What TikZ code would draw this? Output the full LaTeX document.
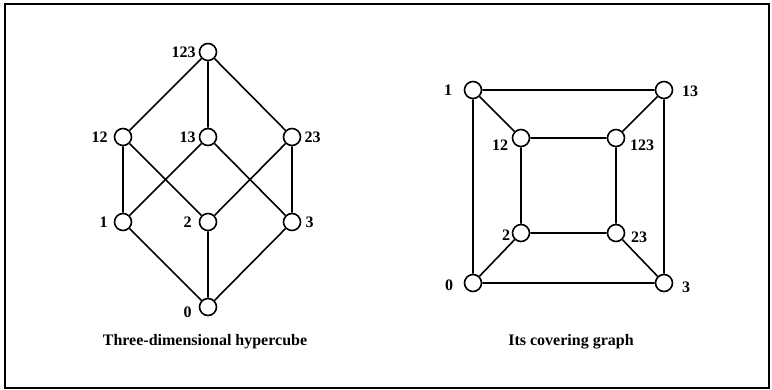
\documentclass[tikz,border=0pt]{standalone}
\usepackage{fontspec}
\setmainfont{Liberation Serif}
\begin{document}
\begin{tikzpicture}[x=1pt,y=-1pt,
  vtx/.style={circle,draw,line width=1.6pt,minimum size=17pt,inner sep=0pt,fill=white},
  lbl/.style={font=\bfseries\fontsize{16}{18}\selectfont,inner sep=1pt},
  edge/.style={line width=1.6pt},
  captxt/.style={font=\bfseries\fontsize{16}{18}\selectfont}]
\useasboundingbox (0,0) rectangle (772,390);
\draw[line width=1.4pt] (5,4) rectangle (769,388);
% left graph
\node[vtx] (a123) at (208,52) {};
\node[vtx] (a12) at (123,137) {};
\node[vtx] (a13) at (208,137) {};
\node[vtx] (a23) at (292,137) {};
\node[vtx] (a1) at (123,222) {};
\node[vtx] (a2) at (208,222) {};
\node[vtx] (a3) at (292,222) {};
\node[vtx] (a0) at (208,307) {};
\draw[edge] (a123)--(a12) (a123)--(a13) (a123)--(a23)
  (a12)--(a1) (a12)--(a2) (a13)--(a1) (a13)--(a3) (a23)--(a2) (a23)--(a3)
  (a1)--(a0) (a2)--(a0) (a3)--(a0);
\node[lbl,anchor=east] (la123) at ([xshift=-2pt]a123.west) {123};
\node[lbl,anchor=east] (la12) at ([xshift=-5pt]a12.west) {12};
\node[lbl,anchor=east] (la13) at ([xshift=-2pt]a13.west) {13};
\node[lbl,anchor=west] (la23) at ([xshift=2pt]a23.east) {23};
\node[lbl,anchor=east] (la1) at ([xshift=-5pt]a1.west) {1};
\node[lbl,anchor=east] (la2) at ([xshift=-6pt]a2.west) {2};
\node[lbl,anchor=west] (la3) at ([xshift=3pt]a3.east) {3};
\node[lbl,anchor=east] (la0) at ([xshift=-6pt,yshift=-5pt]a0.west) {0};
\node[captxt] (capa) at (205,342) {Three-dimensional hypercube};
% right graph
\node[vtx] (b1) at (473,90) {};
\node[vtx] (b13) at (664,90) {};
\node[vtx] (b12) at (521,138) {};
\node[vtx] (b123) at (616,138) {};
\node[vtx] (b2) at (521,233) {};
\node[vtx] (b23) at (616,233) {};
\node[vtx] (b0) at (473,283) {};
\node[vtx] (b3) at (664,283) {};
\draw[edge] (b1)--(b13) (b1)--(b12) (b1)--(b0) (b13)--(b123) (b13)--(b3)
  (b12)--(b123) (b12)--(b2) (b123)--(b23) (b2)--(b23) (b2)--(b0)
  (b23)--(b3) (b0)--(b3);
\node[lbl] (lb1) at (448,90) {1};
\node[lbl] (lb13) at (690,91) {13};
\node[lbl] (lb12) at (500,145) {12};
\node[lbl] (lb123) at (642,145) {123};
\node[lbl] (lb2) at (506,235) {2};
\node[lbl] (lb23) at (639,237) {23};
\node[lbl] (lb0) at (449,285) {0};
\node[lbl] (lb3) at (686,287) {3};
\node[captxt] (capb) at (571,342) {Its covering graph};
\end{tikzpicture}
\end{document}
